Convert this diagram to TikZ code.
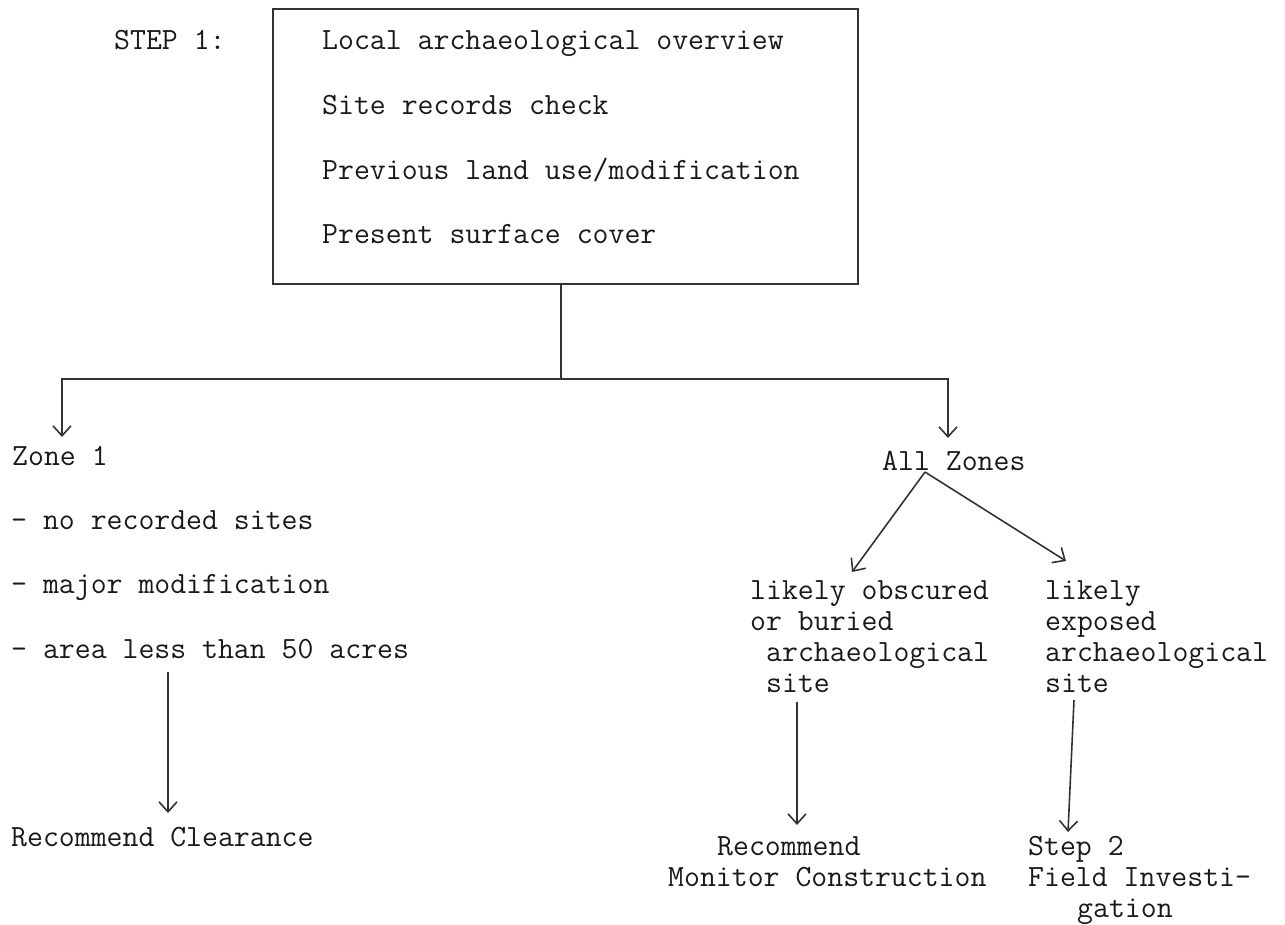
\documentclass[tikz,border=0pt]{standalone}
\usepackage{fontspec}
\setmonofont{Latin Modern Mono}
\usetikzlibrary{arrows.meta}
\begin{document}
\begin{tikzpicture}[x=1pt,y=-1pt,
  txt/.style={anchor=base west,inner sep=0pt,font=\fontsize{30.9}{31}\selectfont\ttfamily,text=black!90},
  ln/.style={line width=1.6pt,draw=black!80},
  arr/.style={ln,-{Straight Barb[length=10pt,width=18pt,line width=1.6pt]}}]
\useasboundingbox (0,0) rectangle (1285,924);
% top box
\node[ln,draw,rectangle,anchor=north west,minimum width=585pt,minimum height=275pt,inner sep=0pt] (box) at (272,8) {};
\node[txt] (step1) at (114,49) {STEP 1:};
\node[txt] (l1) at (322,49) {Local archaeological overview};
\node[txt] (l2) at (322,114) {Site records check};
\node[txt] (l3) at (322,179) {Previous land use/modification};
\node[txt] (l4) at (322,243) {Present surface cover};
% junction
\coordinate (j) at (561,379);
\coordinate (zt) at (62,437);
\coordinate (at) at (948,438);
\draw[ln] (box.south -| j) -- (j);
\draw[arr] (j) -| (zt);
\draw[arr] (j) -| (at);
% left column
\node[txt] (z1) at (12,465) {Zone 1};
\node[txt] (z2) at (11,529) {- no recorded sites};
\node[txt] (z3) at (11,593) {- major modification};
\node[txt] (z4) at (11,658) {- area less than 50 acres};
\coordinate (la1) at (168,672);
\coordinate (la2) at (168,813);
\draw[arr] (la1) -- (la2);
\node[txt] (rc) at (11,846) {Recommend Clearance};
% right part
\node[txt] (all) at (882,470) {All Zones};
\coordinate (apex) at (925,472);
\coordinate (lt) at (852,572);
\coordinate (rt) at (1066,561);
\draw[arr] (apex) -- (lt);
\draw[arr] (apex) -- (rt);
\node[txt] (o1) at (750,599) {likely obscured};
\node[txt] (o2) at (750,630) {or buried};
\node[txt] (o3) at (766,661) {archaeological};
\node[txt] (o4) at (766,692) {site};
\node[txt] (e1) at (1045,599) {likely};
\node[txt] (e2) at (1045,630) {exposed};
\node[txt] (e3) at (1045,661) {archaeological};
\node[txt] (e4) at (1045,692) {site};
\coordinate (m1) at (797,702);
\coordinate (m2) at (797,825);
\draw[arr] (m1) -- (m2);
\coordinate (s1) at (1074,700);
\coordinate (s2) at (1068,832);
\draw[arr] (s1) -- (s2);
\node[txt] (r1) at (717,855) {Recommend};
\node[txt] (r2) at (668,886) {Monitor Construction};
\node[txt] (t1) at (1028,855) {Step 2};
\node[txt] (t2) at (1028,886) {Field Investi-};
\node[txt] (t3) at (1077,917) {gation};
\end{tikzpicture}
\end{document}
